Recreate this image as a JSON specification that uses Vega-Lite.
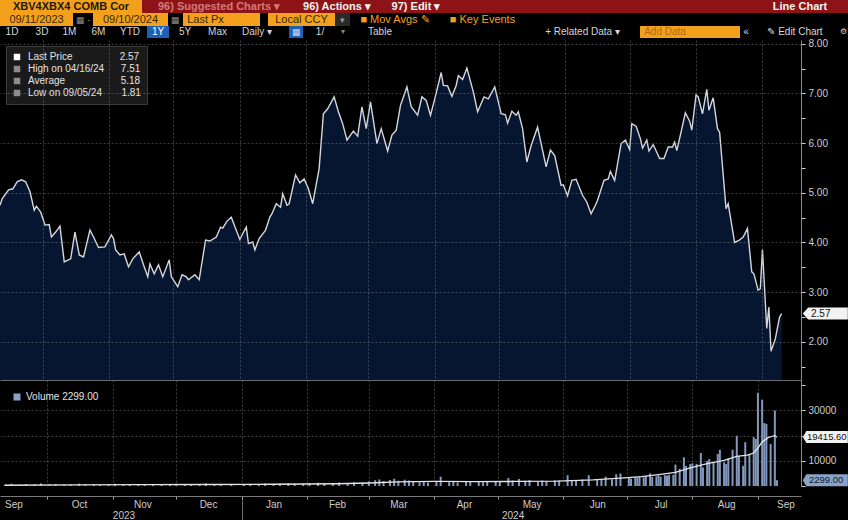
{
  "padding": 0,
  "background": "#000000",
  "spacing": 0,
  "resolve": {"scale": {"color": "independent"}, "legend": {"color": "independent"}},
  "datasets": {
    "price": [
      {"d": "2023-09-11", "p": 4.75}, {"d": "2023-09-12", "p": 4.88}, {"d": "2023-09-15", "p": 5.06}, {"d": "2023-09-17", "p": 5.08},
      {"d": "2023-09-19", "p": 5.22}, {"d": "2023-09-21", "p": 5.26}, {"d": "2023-09-23", "p": 5.22}, {"d": "2023-09-25", "p": 5.02},
      {"d": "2023-09-27", "p": 4.65}, {"d": "2023-09-28", "p": 4.73}, {"d": "2023-09-30", "p": 4.61}, {"d": "2023-10-02", "p": 4.35},
      {"d": "2023-10-04", "p": 4.36}, {"d": "2023-10-05", "p": 4.11}, {"d": "2023-10-07", "p": 4.21}, {"d": "2023-10-09", "p": 4.33},
      {"d": "2023-10-11", "p": 3.61}, {"d": "2023-10-14", "p": 3.67}, {"d": "2023-10-16", "p": 4.21}, {"d": "2023-10-18", "p": 3.75},
      {"d": "2023-10-20", "p": 3.71}, {"d": "2023-10-23", "p": 4.25}, {"d": "2023-10-25", "p": 4.08}, {"d": "2023-10-27", "p": 3.90},
      {"d": "2023-10-30", "p": 3.91}, {"d": "2023-11-02", "p": 4.15}, {"d": "2023-11-03", "p": 4.08}, {"d": "2023-11-04", "p": 3.85},
      {"d": "2023-11-06", "p": 3.75}, {"d": "2023-11-08", "p": 3.77}, {"d": "2023-11-10", "p": 3.51}, {"d": "2023-11-12", "p": 3.67},
      {"d": "2023-11-15", "p": 3.81}, {"d": "2023-11-17", "p": 3.55}, {"d": "2023-11-19", "p": 3.31}, {"d": "2023-11-20", "p": 3.57},
      {"d": "2023-11-22", "p": 3.37}, {"d": "2023-11-24", "p": 3.55}, {"d": "2023-11-26", "p": 3.31}, {"d": "2023-11-29", "p": 3.65},
      {"d": "2023-11-30", "p": 3.31}, {"d": "2023-12-03", "p": 3.11}, {"d": "2023-12-05", "p": 3.35}, {"d": "2023-12-07", "p": 3.31},
      {"d": "2023-12-08", "p": 3.25}, {"d": "2023-12-11", "p": 3.35}, {"d": "2023-12-13", "p": 3.25}, {"d": "2023-12-16", "p": 4.05},
      {"d": "2023-12-18", "p": 4.03}, {"d": "2023-12-21", "p": 4.11}, {"d": "2023-12-23", "p": 4.31}, {"d": "2023-12-24", "p": 4.29},
      {"d": "2023-12-26", "p": 4.43}, {"d": "2023-12-28", "p": 4.51}, {"d": "2023-12-30", "p": 4.28}, {"d": "2024-01-01", "p": 4.06},
      {"d": "2024-01-02", "p": 4.15}, {"d": "2024-01-04", "p": 4.31}, {"d": "2024-01-05", "p": 3.98}, {"d": "2024-01-07", "p": 4.01},
      {"d": "2024-01-08", "p": 3.85}, {"d": "2024-01-10", "p": 4.08}, {"d": "2024-01-13", "p": 4.25}, {"d": "2024-01-15", "p": 4.51},
      {"d": "2024-01-16", "p": 4.58}, {"d": "2024-01-18", "p": 4.78}, {"d": "2024-01-20", "p": 4.71}, {"d": "2024-01-21", "p": 4.98},
      {"d": "2024-01-23", "p": 4.75}, {"d": "2024-01-24", "p": 4.78}, {"d": "2024-01-27", "p": 5.36}, {"d": "2024-01-29", "p": 5.20},
      {"d": "2024-01-31", "p": 5.28}, {"d": "2024-02-02", "p": 5.08}, {"d": "2024-02-04", "p": 4.78}, {"d": "2024-02-07", "p": 5.48},
      {"d": "2024-02-09", "p": 6.59}, {"d": "2024-02-11", "p": 6.69}, {"d": "2024-02-14", "p": 6.93}, {"d": "2024-02-16", "p": 6.63},
      {"d": "2024-02-18", "p": 6.39}, {"d": "2024-02-20", "p": 6.06}, {"d": "2024-02-23", "p": 6.24}, {"d": "2024-02-25", "p": 6.14},
      {"d": "2024-02-27", "p": 6.73}, {"d": "2024-02-29", "p": 6.29}, {"d": "2024-03-02", "p": 6.83}, {"d": "2024-03-05", "p": 5.99},
      {"d": "2024-03-07", "p": 6.29}, {"d": "2024-03-10", "p": 5.84}, {"d": "2024-03-12", "p": 6.16}, {"d": "2024-03-14", "p": 6.26},
      {"d": "2024-03-16", "p": 6.76}, {"d": "2024-03-19", "p": 7.13}, {"d": "2024-03-21", "p": 6.73}, {"d": "2024-03-24", "p": 6.56},
      {"d": "2024-03-26", "p": 6.93}, {"d": "2024-03-28", "p": 6.86}, {"d": "2024-03-30", "p": 6.56}, {"d": "2024-04-01", "p": 6.89},
      {"d": "2024-04-04", "p": 7.42}, {"d": "2024-04-05", "p": 7.16}, {"d": "2024-04-07", "p": 7.15}, {"d": "2024-04-09", "p": 6.94},
      {"d": "2024-04-11", "p": 7.16}, {"d": "2024-04-12", "p": 7.36}, {"d": "2024-04-14", "p": 7.28}, {"d": "2024-04-16", "p": 7.51},
      {"d": "2024-04-19", "p": 7.03}, {"d": "2024-04-21", "p": 6.63}, {"d": "2024-04-24", "p": 6.93}, {"d": "2024-04-26", "p": 6.89},
      {"d": "2024-04-29", "p": 7.13}, {"d": "2024-05-02", "p": 6.59}, {"d": "2024-05-04", "p": 6.57}, {"d": "2024-05-05", "p": 6.40},
      {"d": "2024-05-07", "p": 6.64}, {"d": "2024-05-09", "p": 6.56}, {"d": "2024-05-10", "p": 6.63}, {"d": "2024-05-12", "p": 6.29},
      {"d": "2024-05-14", "p": 5.62}, {"d": "2024-05-16", "p": 5.95}, {"d": "2024-05-19", "p": 6.32}, {"d": "2024-05-23", "p": 5.52},
      {"d": "2024-05-25", "p": 5.86}, {"d": "2024-05-27", "p": 5.75}, {"d": "2024-05-30", "p": 5.15}, {"d": "2024-05-31", "p": 5.16},
      {"d": "2024-06-02", "p": 4.94}, {"d": "2024-06-04", "p": 5.25}, {"d": "2024-06-06", "p": 5.27}, {"d": "2024-06-09", "p": 4.95},
      {"d": "2024-06-11", "p": 4.81}, {"d": "2024-06-13", "p": 4.58}, {"d": "2024-06-15", "p": 4.75}, {"d": "2024-06-16", "p": 4.85},
      {"d": "2024-06-19", "p": 5.25}, {"d": "2024-06-21", "p": 5.28}, {"d": "2024-06-22", "p": 5.43}, {"d": "2024-06-24", "p": 5.25},
      {"d": "2024-06-27", "p": 5.99}, {"d": "2024-06-29", "p": 6.06}, {"d": "2024-07-01", "p": 5.87}, {"d": "2024-07-02", "p": 6.39},
      {"d": "2024-07-04", "p": 6.34}, {"d": "2024-07-06", "p": 6.09}, {"d": "2024-07-07", "p": 5.90}, {"d": "2024-07-09", "p": 6.06},
      {"d": "2024-07-10", "p": 5.84}, {"d": "2024-07-12", "p": 5.97}, {"d": "2024-07-15", "p": 5.69}, {"d": "2024-07-17", "p": 5.69},
      {"d": "2024-07-19", "p": 5.92}, {"d": "2024-07-21", "p": 5.92}, {"d": "2024-07-22", "p": 6.02}, {"d": "2024-07-23", "p": 5.85},
      {"d": "2024-07-25", "p": 6.22}, {"d": "2024-07-27", "p": 6.61}, {"d": "2024-07-29", "p": 6.44}, {"d": "2024-07-30", "p": 6.26},
      {"d": "2024-08-01", "p": 6.97}, {"d": "2024-08-02", "p": 6.93}, {"d": "2024-08-04", "p": 6.59}, {"d": "2024-08-06", "p": 7.08},
      {"d": "2024-08-07", "p": 6.66}, {"d": "2024-08-09", "p": 6.91}, {"d": "2024-08-11", "p": 6.29}, {"d": "2024-08-12", "p": 6.22},
      {"d": "2024-08-15", "p": 4.68}, {"d": "2024-08-16", "p": 4.78}, {"d": "2024-08-19", "p": 4.00}, {"d": "2024-08-21", "p": 4.04},
      {"d": "2024-08-23", "p": 4.11}, {"d": "2024-08-25", "p": 4.28}, {"d": "2024-08-27", "p": 3.41}, {"d": "2024-08-28", "p": 3.37},
      {"d": "2024-08-30", "p": 3.04}, {"d": "2024-08-31", "p": 3.07}, {"d": "2024-09-01", "p": 3.86}, {"d": "2024-09-03", "p": 2.27},
      {"d": "2024-09-04", "p": 2.70}, {"d": "2024-09-05", "p": 1.81}, {"d": "2024-09-07", "p": 2.06}, {"d": "2024-09-09", "p": 2.50},
      {"d": "2024-09-10", "p": 2.57}
    ],
    "vol": [
      {"d": "2023-09-11", "v": 600}, {"d": "2023-09-14", "v": 900}, {"d": "2023-09-18", "v": 500}, {"d": "2023-09-21", "v": 800},
      {"d": "2023-09-25", "v": 700}, {"d": "2023-09-28", "v": 1000}, {"d": "2023-10-02", "v": 600}, {"d": "2023-10-05", "v": 800},
      {"d": "2023-10-09", "v": 500}, {"d": "2023-10-12", "v": 700}, {"d": "2023-10-16", "v": 900}, {"d": "2023-10-19", "v": 600},
      {"d": "2023-10-23", "v": 700}, {"d": "2023-10-26", "v": 500}, {"d": "2023-10-30", "v": 800}, {"d": "2023-11-02", "v": 900},
      {"d": "2023-11-06", "v": 600}, {"d": "2023-11-09", "v": 700}, {"d": "2023-11-13", "v": 800}, {"d": "2023-11-16", "v": 500},
      {"d": "2023-11-20", "v": 700}, {"d": "2023-11-24", "v": 400}, {"d": "2023-11-28", "v": 800}, {"d": "2023-12-01", "v": 900},
      {"d": "2023-12-05", "v": 700}, {"d": "2023-12-08", "v": 600}, {"d": "2023-12-12", "v": 800}, {"d": "2023-12-15", "v": 1000},
      {"d": "2023-12-19", "v": 700}, {"d": "2023-12-22", "v": 600}, {"d": "2023-12-27", "v": 500}, {"d": "2024-01-02", "v": 800},
      {"d": "2024-01-05", "v": 900}, {"d": "2024-01-09", "v": 700}, {"d": "2024-01-12", "v": 1000}, {"d": "2024-01-16", "v": 800},
      {"d": "2024-01-19", "v": 900}, {"d": "2024-01-23", "v": 1100}, {"d": "2024-01-26", "v": 800}, {"d": "2024-01-30", "v": 900},
      {"d": "2024-02-02", "v": 1100}, {"d": "2024-02-06", "v": 1300}, {"d": "2024-02-09", "v": 1000}, {"d": "2024-02-13", "v": 1200},
      {"d": "2024-02-16", "v": 1400}, {"d": "2024-02-20", "v": 1100}, {"d": "2024-02-23", "v": 1500}, {"d": "2024-02-27", "v": 1300},
      {"d": "2024-03-01", "v": 1800}, {"d": "2024-03-04", "v": 2300}, {"d": "2024-03-06", "v": 2600}, {"d": "2024-03-08", "v": 2000},
      {"d": "2024-03-11", "v": 2400}, {"d": "2024-03-13", "v": 2900}, {"d": "2024-03-15", "v": 2100}, {"d": "2024-03-18", "v": 2500},
      {"d": "2024-03-20", "v": 2200}, {"d": "2024-03-22", "v": 1700}, {"d": "2024-03-25", "v": 1500}, {"d": "2024-03-27", "v": 1800},
      {"d": "2024-03-29", "v": 1400}, {"d": "2024-04-02", "v": 1600}, {"d": "2024-04-04", "v": 3700}, {"d": "2024-04-08", "v": 1500},
      {"d": "2024-04-10", "v": 1800}, {"d": "2024-04-12", "v": 1400}, {"d": "2024-04-16", "v": 1900}, {"d": "2024-04-18", "v": 1600},
      {"d": "2024-04-22", "v": 1700}, {"d": "2024-04-24", "v": 1500}, {"d": "2024-04-26", "v": 1800}, {"d": "2024-04-30", "v": 1600},
      {"d": "2024-05-02", "v": 2000}, {"d": "2024-05-06", "v": 3200}, {"d": "2024-05-08", "v": 2200}, {"d": "2024-05-11", "v": 2800},
      {"d": "2024-05-14", "v": 2100}, {"d": "2024-05-16", "v": 2400}, {"d": "2024-05-20", "v": 1800}, {"d": "2024-05-22", "v": 2200},
      {"d": "2024-05-24", "v": 2000}, {"d": "2024-05-28", "v": 2300}, {"d": "2024-05-30", "v": 2100}, {"d": "2024-06-03", "v": 4300},
      {"d": "2024-06-05", "v": 2400}, {"d": "2024-06-07", "v": 2200}, {"d": "2024-06-10", "v": 2600}, {"d": "2024-06-13", "v": 4300},
      {"d": "2024-06-17", "v": 2500}, {"d": "2024-06-19", "v": 2700}, {"d": "2024-06-21", "v": 3700}, {"d": "2024-06-24", "v": 2600},
      {"d": "2024-06-26", "v": 4700}, {"d": "2024-06-28", "v": 5000}, {"d": "2024-07-02", "v": 3300}, {"d": "2024-07-03", "v": 2900},
      {"d": "2024-07-05", "v": 3500}, {"d": "2024-07-06", "v": 3200}, {"d": "2024-07-07", "v": 3800}, {"d": "2024-07-09", "v": 3400},
      {"d": "2024-07-10", "v": 4000}, {"d": "2024-07-12", "v": 5000}, {"d": "2024-07-13", "v": 3600}, {"d": "2024-07-15", "v": 3900},
      {"d": "2024-07-16", "v": 4200}, {"d": "2024-07-17", "v": 3700}, {"d": "2024-07-19", "v": 4300}, {"d": "2024-07-20", "v": 4100},
      {"d": "2024-07-21", "v": 4500}, {"d": "2024-07-23", "v": 4400}, {"d": "2024-07-24", "v": 8500}, {"d": "2024-07-26", "v": 6800},
      {"d": "2024-07-28", "v": 11400}, {"d": "2024-07-29", "v": 8000}, {"d": "2024-07-31", "v": 8700}, {"d": "2024-08-01", "v": 9000},
      {"d": "2024-08-03", "v": 8800}, {"d": "2024-08-05", "v": 13100}, {"d": "2024-08-06", "v": 7400}, {"d": "2024-08-08", "v": 10000},
      {"d": "2024-08-09", "v": 10700}, {"d": "2024-08-11", "v": 9500}, {"d": "2024-08-13", "v": 12700}, {"d": "2024-08-14", "v": 14400},
      {"d": "2024-08-16", "v": 9400}, {"d": "2024-08-17", "v": 8700}, {"d": "2024-08-18", "v": 11000}, {"d": "2024-08-20", "v": 14400},
      {"d": "2024-08-22", "v": 20000}, {"d": "2024-08-23", "v": 12000}, {"d": "2024-08-25", "v": 8000}, {"d": "2024-08-26", "v": 17400},
      {"d": "2024-08-28", "v": 12700}, {"d": "2024-08-30", "v": 19400}, {"d": "2024-08-31", "v": 18700}, {"d": "2024-09-01", "v": 37000},
      {"d": "2024-09-03", "v": 34300}, {"d": "2024-09-04", "v": 25000}, {"d": "2024-09-05", "v": 24700}, {"d": "2024-09-07", "v": 16700},
      {"d": "2024-09-09", "v": 30000}, {"d": "2024-09-10", "v": 2299}
    ],
    "ma": [
      {"d": "2023-09-11", "m": 300}, {"d": "2023-10-15", "m": 450}, {"d": "2023-11-15", "m": 550}, {"d": "2023-12-15", "m": 600},
      {"d": "2024-01-15", "m": 700}, {"d": "2024-02-15", "m": 900}, {"d": "2024-03-01", "m": 1200}, {"d": "2024-03-15", "m": 1600},
      {"d": "2024-04-01", "m": 1800}, {"d": "2024-04-20", "m": 1750}, {"d": "2024-05-10", "m": 1800}, {"d": "2024-05-29", "m": 1900},
      {"d": "2024-06-15", "m": 2400}, {"d": "2024-06-28", "m": 3100}, {"d": "2024-07-08", "m": 3700}, {"d": "2024-07-16", "m": 4500},
      {"d": "2024-07-24", "m": 5400}, {"d": "2024-07-31", "m": 7200}, {"d": "2024-08-08", "m": 8900}, {"d": "2024-08-16", "m": 10200},
      {"d": "2024-08-22", "m": 11800}, {"d": "2024-08-27", "m": 12300}, {"d": "2024-08-30", "m": 13100}, {"d": "2024-09-01", "m": 15100},
      {"d": "2024-09-03", "m": 17500}, {"d": "2024-09-06", "m": 19300}, {"d": "2024-09-09", "m": 20000}, {"d": "2024-09-10", "m": 19415.6}
    ],
    "stats": [
      {"label": "Last Price\u00a0\u00a0\u00a0\u00a0\u00a0\u00a0\u00a0\u00a0\u00a0\u00a0\u00a0\u00a0\u00a0\u00a0\u00a0\u00a0\u00a02.57", "value": 2.57},
      {"label": "High on 04/16/24\u00a0\u00a0\u00a0\u00a0\u00a0\u00a07.51", "value": 7.51},
      {"label": "Average\u00a0\u00a0\u00a0\u00a0\u00a0\u00a0\u00a0\u00a0\u00a0\u00a0\u00a0\u00a0\u00a0\u00a0\u00a0\u00a0\u00a0\u00a0\u00a0\u00a05.18", "value": 5.18},
      {"label": "Low on 09/05/24\u00a0\u00a0\u00a0\u00a0\u00a0\u00a0\u00a01.81", "value": 1.81}
    ]
  },
  "vconcat": [
    {
      "spacing": 0, "bounds": "flush",
      "hconcat": [
        {"width": 142, "height": 13, "data": {"values": [{"t": "XBV4XBX4 COMB Cor"}]}, "layer": [
          {"mark": {"type": "rect", "color": "#f3a11d"}, "encoding": {}},
          {"mark": {"type": "text", "color": "#24180a", "fontSize": 11, "fontWeight": "bold"}, "encoding": {"text": {"field": "t"}}}]},
        {"width": 154, "height": 13, "data": {"values": [{"t": "96) Suggested Charts \u25be"}]}, "layer": [
          {"mark": {"type": "rect", "color": "#8e1317"}, "encoding": {}},
          {"mark": {"type": "text", "color": "#d27a7a", "fontSize": 11, "fontWeight": "bold"}, "encoding": {"text": {"field": "t"}}}]},
        {"width": 82, "height": 13, "data": {"values": [{"t": "96) Actions \u25be"}]}, "layer": [
          {"mark": {"type": "rect", "color": "#8e1317"}, "encoding": {}},
          {"mark": {"type": "text", "color": "#f2f2f2", "fontSize": 11, "fontWeight": "bold"}, "encoding": {"text": {"field": "t"}}}]},
        {"width": 76, "height": 13, "data": {"values": [{"t": "97) Edit \u25be"}]}, "layer": [
          {"mark": {"type": "rect", "color": "#8e1317"}, "encoding": {}},
          {"mark": {"type": "text", "color": "#f2f2f2", "fontSize": 11, "fontWeight": "bold"}, "encoding": {"text": {"field": "t"}}}]},
        {"width": 298, "height": 13, "data": {"values": [{}]}, "mark": {"type": "rect", "color": "#8e1317"}, "encoding": {}},
        {"width": 96, "height": 13, "data": {"values": [{"t": "Line Chart"}]}, "layer": [
          {"mark": {"type": "rect", "color": "#8e1317"}, "encoding": {}},
          {"mark": {"type": "text", "color": "#f2f2f2", "fontSize": 11, "fontWeight": "bold"}, "encoding": {"text": {"field": "t"}}}]}
      ]
    },
    {
      "spacing": 0, "bounds": "flush",
      "hconcat": [
        {"width": 73, "height": 13, "data": {"values": [{"t": "09/11/2023"}]}, "layer": [
          {"mark": {"type": "rect", "color": "#f3a11d"}, "encoding": {}},
          {"mark": {"type": "text", "color": "#3a2606", "fontSize": 11}, "encoding": {"text": {"field": "t"}}}]},
        {"width": 20, "height": 13, "data": {"values": [{"t": "\u25a6 -"}]}, "mark": {"type": "text", "color": "#8a8a8a", "fontSize": 9}, "encoding": {"text": {"field": "t"}}},
        {"width": 75, "height": 13, "data": {"values": [{"t": "09/10/2024"}]}, "layer": [
          {"mark": {"type": "rect", "color": "#f3a11d"}, "encoding": {}},
          {"mark": {"type": "text", "color": "#3a2606", "fontSize": 11}, "encoding": {"text": {"field": "t"}}}]},
        {"width": 15, "height": 13, "data": {"values": [{"t": "\u25a6"}]}, "mark": {"type": "text", "color": "#8a8a8a", "fontSize": 9}, "encoding": {"text": {"field": "t"}}},
        {"width": 45, "height": 13, "data": {"values": [{"t": "Last Px"}]}, "layer": [
          {"mark": {"type": "rect", "color": "#f3a11d"}, "encoding": {}},
          {"mark": {"type": "text", "color": "#3a2606", "fontSize": 11}, "encoding": {"text": {"field": "t"}}}]},
        {"width": 32, "height": 13, "data": {"values": [{}]}, "mark": {"type": "rect", "color": "#f3a11d"}, "encoding": {}},
        {"width": 8, "height": 13, "data": {"values": [{}]}, "mark": {"type": "rect", "color": "#000000"}, "encoding": {}},
        {"width": 67, "height": 13, "data": {"values": [{"t": "Local CCY"}]}, "layer": [
          {"mark": {"type": "rect", "color": "#f3a11d"}, "encoding": {}},
          {"mark": {"type": "text", "color": "#3a2606", "fontSize": 11}, "encoding": {"text": {"field": "t"}}}]},
        {"width": 15, "height": 13, "data": {"values": [{"t": "\u25be"}]}, "layer": [
          {"mark": {"type": "rect", "color": "#2a2a2a"}, "encoding": {}},
          {"mark": {"type": "text", "color": "#9a9a9a", "fontSize": 9}, "encoding": {"text": {"field": "t"}}}]},
        {"width": 90, "height": 13, "data": {"values": [{"t": "\u25a0 Mov Avgs \u270e"}]}, "mark": {"type": "text", "color": "#f3a11d", "fontSize": 11}, "encoding": {"text": {"field": "t"}}},
        {"width": 85, "height": 13, "data": {"values": [{"t": "\u25a0 Key Events"}]}, "mark": {"type": "text", "color": "#f3a11d", "fontSize": 11}, "encoding": {"text": {"field": "t"}}},
        {"width": 323, "height": 13, "data": {"values": [{}]}, "mark": {"type": "rect", "color": "#000000"}, "encoding": {}}
      ]
    },
    {
      "spacing": 0, "bounds": "flush",
      "hconcat": [
        {"width": 24, "height": 12, "data": {"values": [{"t": "1D"}]}, "mark": {"type": "text", "color": "#d6d6d6", "fontSize": 10}, "encoding": {"text": {"field": "t"}}},
        {"width": 36, "height": 12, "data": {"values": [{"t": "3D"}]}, "mark": {"type": "text", "color": "#d6d6d6", "fontSize": 10}, "encoding": {"text": {"field": "t"}}},
        {"width": 19, "height": 12, "data": {"values": [{"t": "1M"}]}, "mark": {"type": "text", "color": "#d6d6d6", "fontSize": 10}, "encoding": {"text": {"field": "t"}}},
        {"width": 39, "height": 12, "data": {"values": [{"t": "6M"}]}, "mark": {"type": "text", "color": "#d6d6d6", "fontSize": 10}, "encoding": {"text": {"field": "t"}}},
        {"width": 24, "height": 12, "data": {"values": [{"t": "YTD"}]}, "mark": {"type": "text", "color": "#d6d6d6", "fontSize": 10}, "encoding": {"text": {"field": "t"}}},
        {"width": 5, "height": 12, "data": {"values": [{}]}, "mark": {"type": "rect", "color": "#000000"}, "encoding": {}},
        {"width": 22, "height": 12, "data": {"values": [{"t": "1Y"}]}, "layer": [
          {"mark": {"type": "rect", "color": "#1f5fb4"}, "encoding": {}},
          {"mark": {"type": "text", "color": "#ffffff", "fontSize": 10}, "encoding": {"text": {"field": "t"}}}]},
        {"width": 32, "height": 12, "data": {"values": [{"t": "5Y"}]}, "mark": {"type": "text", "color": "#d6d6d6", "fontSize": 10}, "encoding": {"text": {"field": "t"}}},
        {"width": 33, "height": 12, "data": {"values": [{"t": "Max"}]}, "mark": {"type": "text", "color": "#d6d6d6", "fontSize": 10}, "encoding": {"text": {"field": "t"}}},
        {"width": 46, "height": 12, "data": {"values": [{"t": "Daily \u25be"}]}, "mark": {"type": "text", "color": "#d6d6d6", "fontSize": 10}, "encoding": {"text": {"field": "t"}}},
        {"width": 9, "height": 12, "data": {"values": [{}]}, "mark": {"type": "rect", "color": "#000000"}, "encoding": {}},
        {"width": 14, "height": 12, "data": {"values": [{"t": "\u25a6"}]}, "layer": [
          {"mark": {"type": "rect", "color": "#1f5fb4"}, "encoding": {}},
          {"mark": {"type": "text", "color": "#c8d8f0", "fontSize": 9}, "encoding": {"text": {"field": "t"}}}]},
        {"width": 34, "height": 12, "data": {"values": [{"t": "1/"}]}, "mark": {"type": "text", "color": "#d6d6d6", "fontSize": 10}, "encoding": {"text": {"field": "t"}}},
        {"width": 12, "height": 12, "data": {"values": [{"t": "\u25be"}]}, "mark": {"type": "text", "color": "#8a8a8a", "fontSize": 8}, "encoding": {"text": {"field": "t"}}},
        {"width": 62, "height": 12, "data": {"values": [{"t": "Table"}]}, "mark": {"type": "text", "color": "#d6d6d6", "fontSize": 10}, "encoding": {"text": {"field": "t"}}},
        {"width": 127, "height": 12, "data": {"values": [{}]}, "mark": {"type": "rect", "color": "#000000"}, "encoding": {}},
        {"width": 89, "height": 12, "data": {"values": [{"t": "+ Related Data \u25be"}]}, "mark": {"type": "text", "color": "#d6d6d6", "fontSize": 10}, "encoding": {"text": {"field": "t"}}},
        {"width": 13, "height": 12, "data": {"values": [{}]}, "mark": {"type": "rect", "color": "#000000"}, "encoding": {}},
        {"width": 50, "height": 12, "data": {"values": [{"t": "Add Data"}]}, "layer": [
          {"mark": {"type": "rect", "color": "#f3a11d"}, "encoding": {}},
          {"mark": {"type": "text", "color": "#b06a10", "fontSize": 10}, "encoding": {"text": {"field": "t"}}}]},
        {"width": 50, "height": 12, "data": {"values": [{}]}, "mark": {"type": "rect", "color": "#f3a11d"}, "encoding": {}},
        {"width": 12, "height": 12, "data": {"values": [{"t": "\u00ab"}]}, "mark": {"type": "text", "color": "#d6d6d6", "fontSize": 10}, "encoding": {"text": {"field": "t"}}},
        {"width": 86, "height": 12, "data": {"values": [{"t": "\u270e Edit Chart"}]}, "mark": {"type": "text", "color": "#d6d6d6", "fontSize": 10}, "encoding": {"text": {"field": "t"}}},
        {"width": 10, "height": 12, "data": {"values": [{"t": "\u2699"}]}, "mark": {"type": "text", "color": "#d6d6d6", "fontSize": 8}, "encoding": {"text": {"field": "t"}}}
      ]
    },
    {
      "width": 801,
      "height": 340,
      "resolve": {"axis": {"y": "independent"}},
      "layer": [
        {
          "data": {"name": "price"},
          "mark": {"type": "area", "color": "#0a1f45", "clip": true, "line": {"color": "#d3d7dc", "strokeWidth": 1.4}},
          "encoding": {
            "x": {
              "field": "d", "type": "temporal",
              "scale": {"type": "utc", "domain": [1694390400000, 1726704000000]},
              "axis": {
                "orient": "bottom", "title": null, "labels": false, "ticks": false,
                "values": [1696118400000, 1698796800000, 1701388800000, 1704067200000, 1706745600000, 1709251200000, 1711929600000, 1714521600000, 1717200000000, 1719792000000, 1722470400000, 1725148800000],
                "grid": true, "gridColor": "#8c8c8c", "gridOpacity": 0.45, "gridDash": [2, 2],
                "domain": true, "domainColor": "#6e6e6e", "zindex": 1
              }
            },
            "y": {
              "field": "p", "type": "quantitative",
              "scale": {"domain": [1.233, 8.074], "nice": false, "zero": false},
              "axis": {
                "orient": "right", "title": null,
                "values": [1.5, 2, 2.5, 3, 3.5, 4, 4.5, 5, 5.5, 6, 6.5, 7, 7.5, 8],
                "labelExpr": "datum.value % 1 === 0 ? format(datum.value, '.2f') : ''",
                "grid": true, "gridColor": "#8c8c8c", "gridDash": [2, 2],
                "gridOpacity": {"condition": {"test": "datum.value % 1 === 0", "value": 0.45}, "value": 0},
                "tickSize": 4, "tickColor": "#d0d0d0",
                "domain": true, "domainColor": "#8a8a8a",
                "labelColor": "#cdcdcd", "labelFontSize": 10, "labelPadding": 3, "zindex": 1
              }
            }
          }
        },
        {
          "data": {"name": "stats"},
          "mark": {"type": "point", "filled": true, "opacity": 0},
          "encoding": {
            "color": {
              "field": "label", "type": "nominal",
              "scale": {
                "domain": ["Last Price\u00a0\u00a0\u00a0\u00a0\u00a0\u00a0\u00a0\u00a0\u00a0\u00a0\u00a0\u00a0\u00a0\u00a0\u00a0\u00a0\u00a02.57", "High on 04/16/24\u00a0\u00a0\u00a0\u00a0\u00a0\u00a07.51", "Average\u00a0\u00a0\u00a0\u00a0\u00a0\u00a0\u00a0\u00a0\u00a0\u00a0\u00a0\u00a0\u00a0\u00a0\u00a0\u00a0\u00a0\u00a0\u00a0\u00a05.18", "Low on 09/05/24\u00a0\u00a0\u00a0\u00a0\u00a0\u00a0\u00a01.81"],
                "range": ["#ffffff", "#8c8c8c", "#8c8c8c", "#8c8c8c"]
              },
              "legend": {
                "orient": "top-left", "offset": 6, "padding": 6, "title": null,
                "fillColor": "#1a1a1a", "strokeColor": "#3c3c3c",
                "labelColor": "#e4e4e4", "labelFontSize": 10, "labelLimit": 300, "labelOffset": 6,
                "symbolType": "square", "symbolSize": 42, "symbolOpacity": 1, "symbolStrokeWidth": 0, "rowPadding": 2
              }
            }
          }
        },
        {
          "data": {"values": [{"p": 2.57, "t": "2.57"}]},
          "mark": {"type": "point", "filled": true, "color": "#f2f2f2", "opacity": 1, "size": 144, "shape": "M0.3,0L1.2,-1L7.8,-1L7.8,1L1.2,1Z"},
          "encoding": {"x": {"value": "width"}, "y": {"field": "p", "type": "quantitative", "axis": null}}
        },
        {
          "data": {"values": [{"p": 2.57, "t": "2.57"}]},
          "mark": {"type": "text", "align": "left", "baseline": "middle", "dx": 10, "fontSize": 10, "color": "#111111"},
          "encoding": {"x": {"value": "width"}, "y": {"field": "p", "type": "quantitative", "axis": null}, "text": {"field": "t"}}
        }
      ]
    },
    {
      "width": 801,
      "height": 106,
      "resolve": {"axis": {"x": "independent", "y": "independent"}},
      "layer": [
        {
          "data": {"name": "vol"},
          "mark": {"type": "bar", "color": "#8299bd", "width": 2},
          "encoding": {
            "x": {
              "field": "d", "type": "temporal",
              "scale": {"type": "utc", "domain": [1694390400000, 1726704000000]},
              "axis": {
                "orient": "bottom", "title": null, "labels": false, "offset": 10,
                "values": [1696118400000, 1698796800000, 1701388800000, 1704067200000, 1706745600000, 1709251200000, 1711929600000, 1714521600000, 1717200000000, 1719792000000, 1722470400000, 1725148800000],
                "ticks": true, "tickSize": 3, "tickColor": "#a0a0a0",
                "grid": true, "gridColor": "#8c8c8c", "gridOpacity": 0.45, "gridDash": [2, 2],
                "domain": true, "domainColor": "#7a7a7a", "zindex": 1
              }
            },
            "y": {
              "field": "v", "type": "quantitative",
              "scale": {"domain": [0, 42100], "nice": false},
              "axis": {
                "orient": "right", "title": null,
                "values": [0, 10000, 20000, 30000, 40000],
                "labelExpr": "datum.value === 10000 || datum.value === 30000 ? format(datum.value, 'd') : ''",
                "grid": true, "gridColor": "#8c8c8c", "gridDash": [2, 2],
                "gridOpacity": {"condition": {"test": "datum.value > 0 && datum.value < 40000", "value": 0.45}, "value": 0},
                "tickSize": 4, "tickColor": "#d0d0d0",
                "domain": true, "domainColor": "#8a8a8a",
                "labelColor": "#cdcdcd", "labelFontSize": 10, "labelPadding": 3, "zindex": 1
              }
            }
          }
        },
        {
          "data": {"values": [{"s": "Volume 2299.00"}]},
          "mark": {"type": "point", "filled": true, "opacity": 0},
          "encoding": {
            "color": {
              "field": "s", "type": "nominal",
              "scale": {"domain": ["Volume 2299.00"], "range": ["#8aa3c9"]},
              "legend": {
                "orient": "top-left", "offset": 6, "padding": 6, "title": null,
                "labelColor": "#e4e4e4", "labelFontSize": 10, "labelOffset": 4,
                "symbolType": "square", "symbolSize": 49, "symbolOpacity": 1, "symbolStrokeWidth": 0
              }
            }
          }
        },
        {
          "data": {"name": "ma"},
          "mark": {"type": "line", "color": "#e4e4e4", "strokeWidth": 1.3},
          "encoding": {
            "x": {
              "field": "d", "type": "temporal",
              "axis": {
                "orient": "bottom", "title": null, "offset": 10, "ticks": false, "domain": false, "grid": false,
                "values": [1694736000000, 1697414400000, 1700006400000, 1702684800000, 1705363200000, 1707955200000, 1710460800000, 1713139200000, 1715904000000, 1718582400000, 1721174400000, 1723852800000, 1726272000000],
                "labelExpr": "utcFormat(datum.value, '%b')",
                "labelColor": "#cdcdcd", "labelFontSize": 10, "labelPadding": 3
              }
            },
            "y": {"field": "m", "type": "quantitative", "axis": null}
          }
        },
        {
          "data": {"name": "ma"},
          "mark": {"type": "point", "opacity": 0},
          "encoding": {
            "x": {
              "field": "d", "type": "temporal",
              "axis": {
                "orient": "bottom", "title": null, "offset": 10, "domain": false, "grid": false,
                "values": [1699228800000, 1704067200000, 1715126400000],
                "ticks": true, "tickSize": 25, "tickColor": "#6e6e6e",
                "tickOpacity": {"condition": {"test": "utcmonth(datum.value) === 0", "value": 1}, "value": 0},
                "labelExpr": "utcmonth(datum.value) === 0 ? '' : utcFormat(datum.value, '%Y')",
                "labelColor": "#cdcdcd", "labelFontSize": 10, "labelPadding": -11
              }
            },
            "y": {"field": "m", "type": "quantitative", "axis": null}
          }
        },
        {
          "data": {"values": [{"v": 19415.6, "t": "19415.60"}]},
          "mark": {"type": "point", "filled": true, "color": "#f2f2f2", "opacity": 1, "size": 144, "shape": "M0.3,0L0.9,-1L7.8,-1L7.8,1L0.9,1Z"},
          "encoding": {"x": {"value": "width"}, "y": {"field": "v", "type": "quantitative", "axis": null}}
        },
        {
          "data": {"values": [{"v": 19415.6, "t": "19415.60"}]},
          "mark": {"type": "text", "align": "left", "baseline": "middle", "dx": 6, "fontSize": 9.5, "color": "#111111"},
          "encoding": {"x": {"value": "width"}, "y": {"field": "v", "type": "quantitative", "axis": null}, "text": {"field": "t"}}
        },
        {
          "data": {"values": [{"v": 2299, "t": "2299.00"}]},
          "mark": {"type": "point", "filled": true, "color": "#8aa3c9", "opacity": 1, "size": 144, "shape": "M0.3,0L0.9,-1L7.8,-1L7.8,1L0.9,1Z"},
          "encoding": {"x": {"value": "width"}, "y": {"field": "v", "type": "quantitative", "axis": null}}
        },
        {
          "data": {"values": [{"v": 2299, "t": "2299.00"}]},
          "mark": {"type": "text", "align": "left", "baseline": "middle", "dx": 8, "fontSize": 9.5, "color": "#0d1a2e"},
          "encoding": {"x": {"value": "width"}, "y": {"field": "v", "type": "quantitative", "axis": null}, "text": {"field": "t"}}
        }
      ]
    }
  ],
  "config": {
    "view": {"stroke": null},
    "font": "Liberation Sans",
    "axis": {"labelFont": "Liberation Sans"},
    "legend": {"labelFont": "Liberation Sans"},
    "text": {"font": "Liberation Sans"}
  }
}
